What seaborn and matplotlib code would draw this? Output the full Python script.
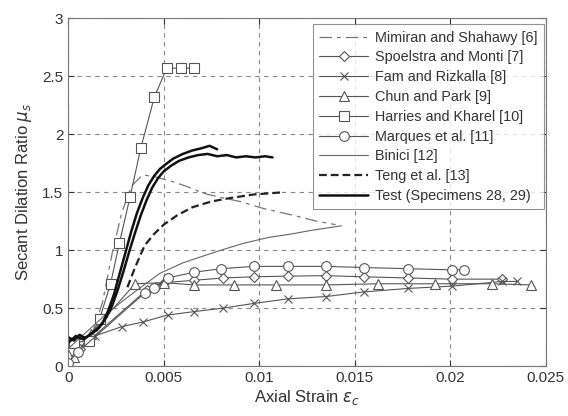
import matplotlib
matplotlib.use("Agg")
import matplotlib.pyplot as plt
import seaborn as sns

# Mimiran and Shahawy [6]
mim_x = [0.0012, 0.0018, 0.0023, 0.0028, 0.0033, 0.0039, 0.0046, 0.0053, 0.0062, 0.0071, 0.0081, 0.0090, 0.0102, 0.0118, 0.0130, 0.0140]
mim_y = [0.25, 0.55, 0.97, 1.32, 1.55, 1.65, 1.63, 1.60, 1.55, 1.49, 1.45, 1.42, 1.36, 1.30, 1.25, 1.22]

# Spoelstra and Monti [7]
spo_x = [0.0, 0.0006, 0.0041, 0.0046, 0.0050, 0.0066, 0.0081, 0.0097, 0.0115, 0.0135, 0.0155, 0.0178, 0.0201, 0.0227]
spo_y = [0.05, 0.15, 0.655, 0.68, 0.72, 0.74, 0.76, 0.77, 0.776, 0.78, 0.77, 0.76, 0.75, 0.75]

# Fam and Rizkalla [8]
fam_x = [0.0, 0.0014, 0.0028, 0.0039, 0.0052, 0.0066, 0.0081, 0.0097, 0.0115, 0.0135, 0.0155, 0.0178, 0.0201, 0.0227, 0.0235]
fam_y = [0.20, 0.26, 0.34, 0.38, 0.44, 0.47, 0.50, 0.54, 0.58, 0.60, 0.64, 0.67, 0.69, 0.73, 0.73]

# Chun and Park [9]
chun_x = [0.0, 0.0003, 0.0012, 0.0035, 0.0050, 0.0066, 0.0087, 0.0109, 0.0135, 0.0162, 0.0192, 0.0222, 0.0242]
chun_y = [0.10, 0.08, 0.28, 0.71, 0.72, 0.70, 0.70, 0.70, 0.70, 0.71, 0.71, 0.71, 0.70]

# Harries and Kharel [10]
har_x = [0.0003, 0.0011, 0.00165, 0.00222, 0.00268, 0.00324, 0.0038, 0.00451, 0.00516, 0.0059, 0.00661]
har_y = [0.20, 0.22, 0.41, 0.71, 1.06, 1.46, 1.88, 2.32, 2.57, 2.57, 2.57]

# Marques et al. [11]
mar_x = [0.0, 0.0005, 0.0040, 0.0045, 0.0052, 0.0066, 0.0080, 0.0097, 0.0115, 0.0135, 0.0155, 0.0178, 0.0201, 0.0207]
mar_y = [0.03, 0.12, 0.63, 0.67, 0.76, 0.81, 0.84, 0.86, 0.86, 0.86, 0.85, 0.84, 0.83, 0.83]

# Binici [12]
bin_x = [0.0, 0.0010, 0.0020, 0.0030, 0.0036, 0.0048, 0.0060, 0.0069, 0.0080, 0.0092, 0.0105, 0.0117, 0.0127, 0.0143]
bin_y = [0.15, 0.30, 0.45, 0.58, 0.655, 0.80, 0.89, 0.94, 1.00, 1.06, 1.11, 1.14, 1.17, 1.21]

# Teng et al. [13]
teng_x = [0.0031, 0.0035, 0.0040, 0.0045, 0.0050, 0.0057, 0.0065, 0.0075, 0.0085, 0.0097, 0.0113]
teng_y = [0.68, 0.85, 1.04, 1.14, 1.22, 1.30, 1.37, 1.42, 1.45, 1.48, 1.50]

# Test (Specimens 28, 29)
test_a_x = [0.0, 0.0003, 0.0006, 0.0009, 0.0012, 0.0015, 0.0018, 0.0021, 0.0024, 0.0027, 0.0030, 0.0033,
            0.0036, 0.0039, 0.0042, 0.0045, 0.0048, 0.0051, 0.0055, 0.0060, 0.0065, 0.0070, 0.0074, 0.0078]
test_a_y = [0.25, 0.22, 0.27, 0.24, 0.28, 0.31, 0.37, 0.48, 0.62, 0.80, 0.98, 1.16,
            1.32, 1.45, 1.56, 1.64, 1.70, 1.74, 1.79, 1.83, 1.86, 1.88, 1.90, 1.87]
test_b_x = [0.0, 0.0004, 0.0008, 0.0012, 0.0016, 0.0020, 0.0023, 0.0026, 0.0029, 0.0032, 0.0035, 0.0038, 0.0041, 0.0044,
            0.0047, 0.0050, 0.0054, 0.0058, 0.0063, 0.0068, 0.0073, 0.0078, 0.0083, 0.0088, 0.0093, 0.0098, 0.0103, 0.0107]
test_b_y = [0.20, 0.26, 0.23, 0.28, 0.33, 0.42, 0.52, 0.66, 0.82, 0.99, 1.15, 1.30, 1.43, 1.54,
            1.62, 1.68, 1.73, 1.77, 1.80, 1.82, 1.83, 1.81, 1.82, 1.80, 1.81, 1.80, 1.81, 1.80]

x_ticks = [0, 0.005, 0.01, 0.015, 0.02, 0.025]
x_tick_labels = ["0", "0.005", "0.01", "0.015", "0.02", "0.025"]
y_ticks = [0, 0.5, 1, 1.5, 2, 2.5, 3]
y_tick_labels = ["0", "0.5", "1", "1.5", "2", "2.5", "3"]

sns.set_style("ticks")
plt.rcParams["font.family"] = ["Liberation Sans", "DejaVu Sans"]
plt.rcParams["mathtext.fontset"] = "dejavusans"

fig = plt.figure(figsize=(5.68, 4.16), dpi=100)
ax = fig.add_axes([0.12, 0.12, 0.841, 0.836])

gray = "#555555"
mk = dict(markerfacecolor="white", markeredgecolor=gray, markeredgewidth=0.8, markersize=6)

sns.lineplot(x=mim_x, y=mim_y, ax=ax, color="#777777", lw=0.9, sort=False, estimator=None,
             dashes=False, label="Mimiran and Shahawy [6]")
ax.lines[-1].set_dashes((10, 4, 3, 4))
sns.lineplot(x=spo_x, y=spo_y, ax=ax, color=gray, lw=0.8, sort=False, estimator=None,
             marker="D", label="Spoelstra and Monti [7]", **{**mk, "markersize": 5})
sns.lineplot(x=fam_x, y=fam_y, ax=ax, color=gray, lw=0.8, sort=False, estimator=None,
             marker="x", label="Fam and Rizkalla [8]", **mk)
sns.lineplot(x=chun_x, y=chun_y, ax=ax, color=gray, lw=0.8, sort=False, estimator=None,
             marker="^", label="Chun and Park [9]", **{**mk, "markersize": 7})
sns.lineplot(x=har_x, y=har_y, ax=ax, color=gray, lw=0.8, sort=False, estimator=None,
             marker="s", label="Harries and Kharel [10]", **{**mk, "markersize": 7})
sns.lineplot(x=mar_x, y=mar_y, ax=ax, color=gray, lw=0.8, sort=False, estimator=None,
             marker="o", label="Marques et al. [11]", **{**mk, "markersize": 7})
sns.lineplot(x=bin_x, y=bin_y, ax=ax, color="#666666", lw=0.8, sort=False, estimator=None,
             label="Binici [12]")
sns.lineplot(x=teng_x, y=teng_y, ax=ax, color="#222222", lw=1.6, sort=False, estimator=None,
             label="Teng et al. [13]")
ax.lines[-1].set_dashes((3.5, 1.8))
sns.lineplot(x=test_a_x, y=test_a_y, ax=ax, color="#111111", lw=1.8, sort=False, estimator=None,
             label="Test (Specimens 28, 29)")
sns.lineplot(x=test_b_x, y=test_b_y, ax=ax, color="#111111", lw=1.8, sort=False, estimator=None)

ax.set_xlim(0, 0.025)
ax.set_ylim(0, 3)
ax.set_xticks(x_ticks)
ax.set_xticklabels(x_tick_labels)
ax.set_yticks(y_ticks)
ax.set_yticklabels(y_tick_labels)
ax.tick_params(direction="in", labelsize=11, length=4, top=True, right=True, colors="#333333")
ax.grid(True, linestyle=(0, (4, 4)), color="#888888", lw=0.8)
for side in ax.spines.values():
    side.set_visible(True)
    side.set_color("#777777")
    side.set_linewidth(0.8)

ax.set_xlabel(r"Axial Strain $\varepsilon_c$", fontsize=12, color="#333333", labelpad=2)
ax.set_ylabel(r"Secant Dilation Ratio $\mu_s$", fontsize=12, color="#333333", labelpad=6)

leg = ax.legend(loc="upper right", bbox_to_anchor=(0.997, 0.983), fontsize=10.4, frameon=True,
                fancybox=False, borderaxespad=0, handlelength=3.4, handletextpad=0.5,
                labelspacing=0.40, borderpad=0.45)
leg.get_frame().set_edgecolor("#777777")
leg.get_frame().set_linewidth(0.8)
for t in leg.get_texts():
    t.set_color("#333333")

fig.savefig("out.png", dpi=100)
